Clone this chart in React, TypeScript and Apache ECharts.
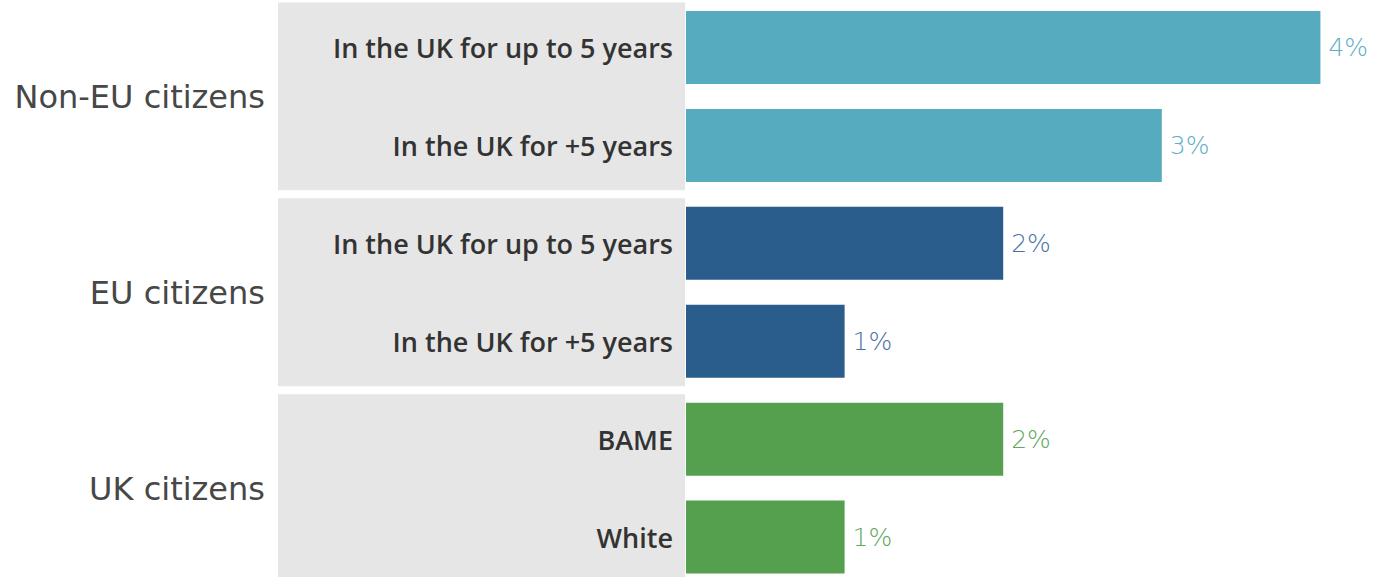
import React, { useEffect, useRef } from "react";
import * as echarts from "echarts";

// ---- data ----
const rowLabels = [
  "In the UK for up to 5 years",
  "In the UK for +5 years",
  "In the UK for up to 5 years",
  "In the UK for +5 years",
  "BAME",
  "White",
];
const rowGroup = [0, 0, 1, 1, 2, 2];
const values = [4, 3, 2, 1, 2, 1];
const groupNames = ["Non-EU citizens", "EU citizens", "UK citizens"];
const groupStart = [0, 2, 4];
const groupEnd = [1, 3, 5];

// ---- styles ----
const barColors = ["#57abbf", "#2b5d8c", "#54a04f"];
const labelColors = ["#5faec4", "#4a73a3", "#5fa85c"];
const SHIFT = 2; // container is placed 2px above the viewport top

export default function App() {
  const ref = useRef<HTMLDivElement>(null);
  useEffect(() => {
    const chart = echarts.init(ref.current!, null, { renderer: "svg" });
    const rowKeys = rowLabels.map((_, i) => "r" + i);
    const option: any = {
      animation: false,
      backgroundColor: "#ffffff",
      grid: { left: 686, right: 7, top: 0.5, height: 587.5, containLabel: false },
      xAxis: {
        type: "value",
        min: 0,
        max: 4.3,
        show: false,
      },
      yAxis: {
        type: "category",
        inverse: true,
        data: rowKeys,
        z: 10,
        axisLine: { show: false },
        axisTick: { show: false },
        splitLine: { show: false },
        axisLabel: {
          margin: 13,
          color: "#333333",
          fontFamily: "Open Sans",
          fontWeight: 600,
          fontSize: 27,
          formatter: (_v: string, i: number) => rowLabels[i],
        },
      },
      series: [
        {
          type: "custom",
          z: -1,
          clip: false,
          silent: true,
          encode: { x: 0, y: 1 },
          data: groupNames.map((_, g) => [0, groupStart[g], groupEnd[g], g]),
          renderItem: (_params: any, api: any) => {
            const s = api.value(1);
            const e = api.value(2);
            const g = api.value(3);
            const band = api.size([0, 1])[1];
            const y0 = Math.max(api.coord([0, s])[1] - band / 2 + 4, SHIFT + 1);
            const y1 = api.coord([0, e])[1] + band / 2 - 4;
            return {
              type: "group",
              children: [
                {
                  type: "rect",
                  shape: { x: 278, y: y0, width: 407, height: y1 - y0 },
                  style: { fill: "#e6e6e6" },
                },
                {
                  type: "text",
                  x: 265,
                  y: (y0 + y1) / 2 + 1,
                  style: {
                    text: groupNames[g],
                    fill: "#474747",
                    font: `32px "DejaVu Sans"`,
                    align: "right",
                    verticalAlign: "middle",
                  },
                },
              ],
            };
          },
        },
        {
          type: "bar",
          barWidth: 73,
          data: values.map((v, i) => ({
            value: v,
            itemStyle: { color: barColors[rowGroup[i]] },
            label: { color: labelColors[rowGroup[i]] },
          })),
          label: {
            show: true,
            position: "right",
            distance: 8,
            fontFamily: "DejaVu Sans",
            fontWeight: 200,
            fontSize: 25,
            formatter: "{c}%",
          },
        },
      ],
    };
    chart.setOption(option);
    return () => chart.dispose();
  }, []);
  return (
    <div
      ref={ref}
      style={{ position: "fixed", left: 0, top: -SHIFT, width: 1375, height: 590 }}
    />
  );
}
